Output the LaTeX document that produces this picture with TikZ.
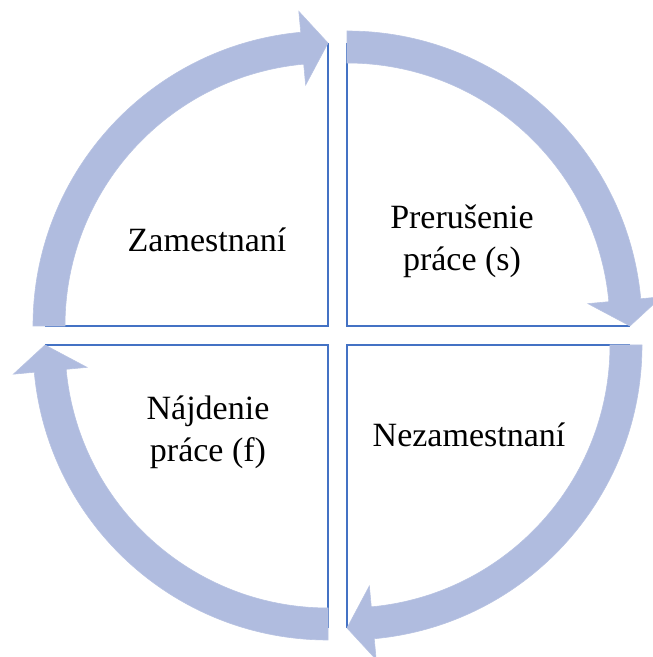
\documentclass[tikz,border=0pt]{standalone}
\usepackage{fontspec}
\setmainfont{Liberation Serif}
\definecolor{bandblue}{RGB}{176,188,223}
\definecolor{edgeblue}{RGB}{68,114,196}
\tikzset{
  band/.style={fill=bandblue, draw=bandblue!90!white, line width=0.6pt},
  edge/.style={draw=edgeblue, line width=2.2pt},
  lbl/.style={font=\fontsize{34}{42}\selectfont, align=center, text=black}
}
\begin{document}
\begin{tikzpicture}[x=1pt,y=1pt]
\useasboundingbox (0,0) rectangle (653,657);
% sector edges
\foreach \cx/\cy/\a in {328/331/180, 347/331/90, 347/312/0, 328/312/270} {
  \pgfmathsetmacro{\e}{\a-90}
  \begin{scope}[shift={(\cx,\cy)}]
    \draw[edge] (\a:283) -- (0,0) -- (\e:283);
  \end{scope}
}
% circular arrows
\foreach \cx/\cy/\a in {328/331/180, 347/331/90, 347/312/0, 328/312/270} {
  \pgfmathsetmacro{\b}{\a-84.7}
  \pgfmathsetmacro{\e}{\a-90}
  \begin{scope}[shift={(\cx,\cy)}]
    \filldraw[band] (\a:295) arc[start angle=\a, end angle=\b, radius=295]
      -- (\b:316) -- (\e:283) -- (\b:242) -- (\b:263)
      arc[start angle=\b, end angle=\a, radius=263] -- cycle;
  \end{scope}
}
\node[lbl] (zam) at (207,417) {Zamestnaní};
\node[lbl] (prer) at (462,416) {Prerušenie\\práce (s)};
\node[lbl] (nez) at (469,222) {Nezamestnaní};
\node[lbl] (najd) at (208,225) {Nájdenie\\práce (f)};
\end{tikzpicture}
\end{document}
